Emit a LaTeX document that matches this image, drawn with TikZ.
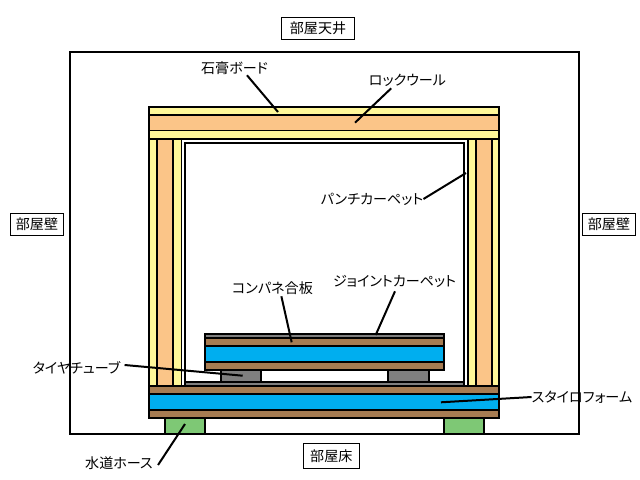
\documentclass[tikz,border=0pt]{standalone}
\usepackage{fontspec}
\setmainfont[RawFeature=+palt]{Noto Sans CJK JP}
\usepackage{tikz}
\usetikzlibrary{calc}

\definecolor{board}{HTML}{FFF799}
\definecolor{wool}{HTML}{FBC588}
\definecolor{plywood}{HTML}{A67C52}
\definecolor{foam}{HTML}{00AEEF}
\definecolor{carpet}{HTML}{7F7F7F}
\definecolor{hose}{HTML}{7EC875}

\begin{document}
\begin{tikzpicture}[x = 0.025cm, y = -0.025cm,
    part/.style = {draw = black, line width = 1.42pt},
    leader/.style = {draw = black, line width = 1.42pt},
    tag/.style = {inner sep = 0pt, minimum height = 0.4cm, font = \fontsize{10}{12}\selectfont},
    room/.style = {draw = black, line width = 0.7pt, inner sep = 0pt, minimum height = 0.55cm, font = \fontsize{10}{12}\selectfont}]

    \useasboundingbox (0, 0) rectangle (640, 480);

% Room
    \draw [part] (70, 52) rectangle (579, 433.5);

% Hoses
    \draw [part, fill = hose] (165, 418) rectangle (205, 433.5);
    \draw [part, fill = hose] (444, 418) rectangle (484.3, 433.5);

% Punch carpet
    \draw [part, fill = white] (181.5, 139) rectangle (468, 386);
    \draw [part, fill = white] (184.7, 143) rectangle (464.3, 382);
    \draw [part, fill = carpet] (184.7, 382) rectangle (464.3, 386);

% Ceiling
    \draw [part, fill = board] (149, 107) rectangle (499, 115);
    \draw [part, fill = wool] (149, 115) rectangle (499, 130.5);
    \draw [part, fill = board] (149, 130.5) rectangle (499, 139);

% Walls
    \draw [part, fill = board] (149, 139) rectangle (157, 386);
    \draw [part, fill = wool] (157, 139) rectangle (173.3, 386);
    \draw [part, fill = board] (173.3, 139) rectangle (181.5, 386);
    \draw [part, fill = board] (468, 139) rectangle (476, 386);
    \draw [part, fill = wool] (476, 139) rectangle (492.3, 386);
    \draw [part, fill = board] (492.3, 139) rectangle (499, 386);

% Lower floor
    \draw [part, fill = plywood] (149, 386) rectangle (499, 394);
    \draw [part, fill = foam] (149, 394) rectangle (499, 409.5);
    \draw [part, fill = plywood] (149, 409.5) rectangle (499, 418);

% Tubes
    \draw [part, fill = carpet] (221, 370) rectangle (261, 381.5);
    \draw [part, fill = carpet] (388, 370) rectangle (428.7, 381.5);

% Upper floor
    \draw [part, fill = carpet] (205, 334) rectangle (444, 338);
    \draw [part, fill = plywood] (205, 338) rectangle (444, 346);
    \draw [part, fill = foam] (205, 346) rectangle (444, 362);
    \draw [part, fill = plywood] (205, 362) rectangle (444, 370);

% Room labels
    \node [room, draw, minimum width = 1.82cm] (ceiling) at (318, 28) {部屋天井};
    \node [room, draw, minimum width = 1.32cm] (wallL) at (37, 224.5) {部屋壁};
    \node [room, draw, minimum width = 1.32cm] (wallR) at (609, 224.5) {部屋壁};
    \node [room, draw, minimum width = 1.4cm, minimum height = 0.62cm] (floor) at (331.3, 456) {部屋床};

% Part labels
    \node [tag] (gypsum) at (234.5, 68) {石膏ボード};
    \node [tag] (rockwool) at (407.5, 80) {ロックウール};
    \node [tag] (punch) at (372, 199) {パンチカーペット};
    \node [tag] (plywoodL) at (272.5, 288) {コンパネ合板};
    \node [tag] (joint) at (394.5, 281) {ジョイントカーペット};
    \node [tag] (tube) at (76.5, 368) {タイヤチューブ};
    \node [tag] (hoseL) at (119, 463) {水道ホース};
    \node [tag] (styro) at (582, 397) {スタイロフォーム};

% Leader ends
    \coordinate (gypsumEnd) at (278, 112);
    \coordinate (rockwoolEnd) at (355, 122.7);
    \coordinate (punchEnd) at (466, 173);
    \coordinate (plywoodEnd) at (291.7, 342.3);
    \coordinate (jointEnd) at (375.7, 335);
    \coordinate (tubeEnd) at (242.7, 375.7);
    \coordinate (hoseEnd) at (185, 424);
    \coordinate (styroEnd) at (441, 402.3);

% Leaders
    \draw [leader] ($(gypsum.south)+(12.5, -1)$) -- (gypsumEnd);
    \draw [leader] (rockwool.207) -- (rockwoolEnd);
    \draw [leader] (punch.east) -- (punchEnd);
    \draw [leader] (plywoodL.-43) -- (plywoodEnd);
    \draw [leader] ($(joint.south)+(0.5, 2)$) -- (jointEnd);
    \draw [leader] ($(tube.east)+(4, -3)$) -- (tubeEnd);
    \draw [leader] ($(hoseL.east)+(5, 2)$) -- (hoseEnd);
    \draw [leader] (styro.west) -- (styroEnd);

\end{tikzpicture}
\end{document}
